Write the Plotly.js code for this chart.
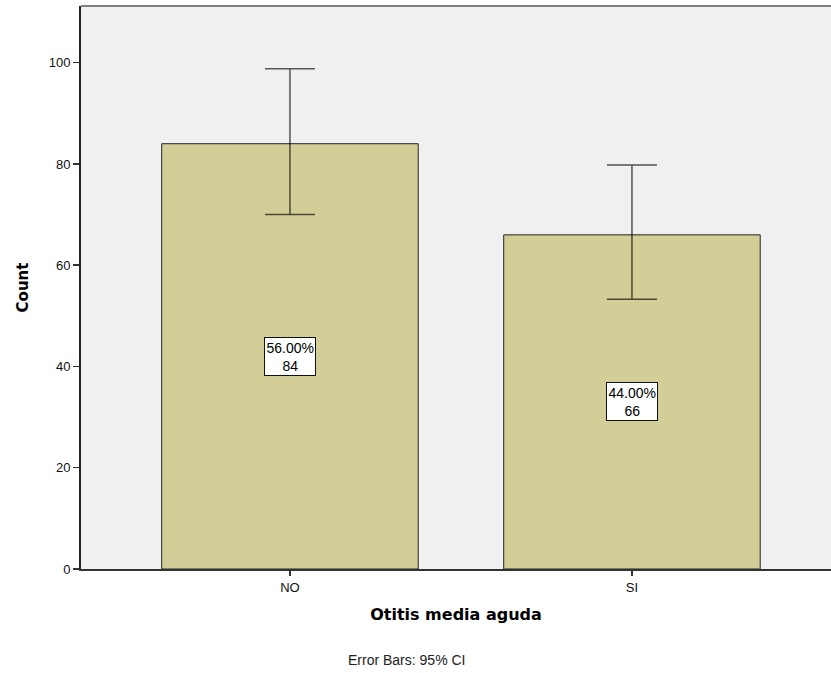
<!DOCTYPE html>
<html>
<head>
<meta charset="utf-8">
<script src="https://cdn.plot.ly/plotly-3.0.1.min.js"></script>
<style>html,body{margin:0;padding:0;background:#fff;}#chart{width:831px;height:673px;}</style>
</head>
<body>
<div id="chart"></div>
<script>
const categories = ['NO', 'SI'];
const counts = [84, 66];
const ciUpper = [98.8, 79.8];
const ciLower = [70.0, 53.3];
const percents = ['56.00%', '44.00%'];

const trace = {
  type: 'bar',
  x: [0, 1],
  y: counts,
  width: 0.75,
  marker: {color: '#D3CE98', line: {color: '#222', width: 1}},
  error_y: {
    type: 'data', symmetric: false,
    array: counts.map((c, i) => ciUpper[i] - c),
    arrayminus: counts.map((c, i) => c - ciLower[i]),
    color: 'rgba(0,0,0,0.65)', thickness: 1.5, width: 25
  },
  hoverinfo: 'none'
};

const annotations = categories.map((c, i) => ({
  x: i, y: counts[i] / 2, xref: 'x', yref: 'y',
  text: percents[i] + '<br>' + counts[i],
  showarrow: false,
  font: {family: 'Liberation Sans, Arial, sans-serif', size: 14, color: '#000'},
  bgcolor: '#fff', bordercolor: '#111', borderwidth: 1, borderpad: 1.5
}));
annotations.push({
  xref: 'paper', yref: 'paper', x: 0.434, y: -0.162, xanchor: 'center', yanchor: 'middle',
  text: 'Error Bars: 95% CI', showarrow: false,
  font: {family: 'Liberation Sans, Arial, sans-serif', size: 14, color: '#222'}
});

const layout = {
  width: 831, height: 673,
  margin: {l: 81, r: 0, t: 6, b: 104},
  paper_bgcolor: '#fff',
  plot_bgcolor: '#F0F0F0',
  showlegend: false,
  font: {family: 'Liberation Sans, Arial, sans-serif', size: 13, color: '#000'},
  xaxis: {
    range: [-0.611, 1.582],
    tickmode: 'array', tickvals: [0, 1], ticktext: categories,
    ticks: 'outside', ticklen: 5, tickcolor: '#333', tickwidth: 1.5,
    showline: true, linecolor: '#333', linewidth: 2,
    showgrid: false, zeroline: false,
    tickfont: {size: 13, color: '#111'},
    title: {text: '<b>Otitis media aguda</b>', font: {family: 'DejaVu Sans, sans-serif', size: 16, color: '#000'}, standoff: 15}
  },
  yaxis: {
    range: [0, 111.2],
    tickvals: [0, 20, 40, 60, 80, 100],
    ticks: 'outside', ticklen: 6, tickcolor: '#333', tickwidth: 1.5,
    showline: true, linecolor: '#222', linewidth: 2,
    showgrid: false, zeroline: false,
    tickfont: {size: 13, color: '#111'},
    title: {text: '<b>Count</b>', font: {family: 'DejaVu Sans, sans-serif', size: 15, color: '#000'}, standoff: 16}
  },
  shapes: [{
    type: 'line', xref: 'paper', yref: 'paper', x0: 0, x1: 1, y0: 1, y1: 1,
    line: {color: '#808080', width: 2}
  }],
  annotations: annotations
};

Plotly.newPlot('chart', [trace], layout, {displayModeBar: false, staticPlot: true});
</script>
</body>
</html>
